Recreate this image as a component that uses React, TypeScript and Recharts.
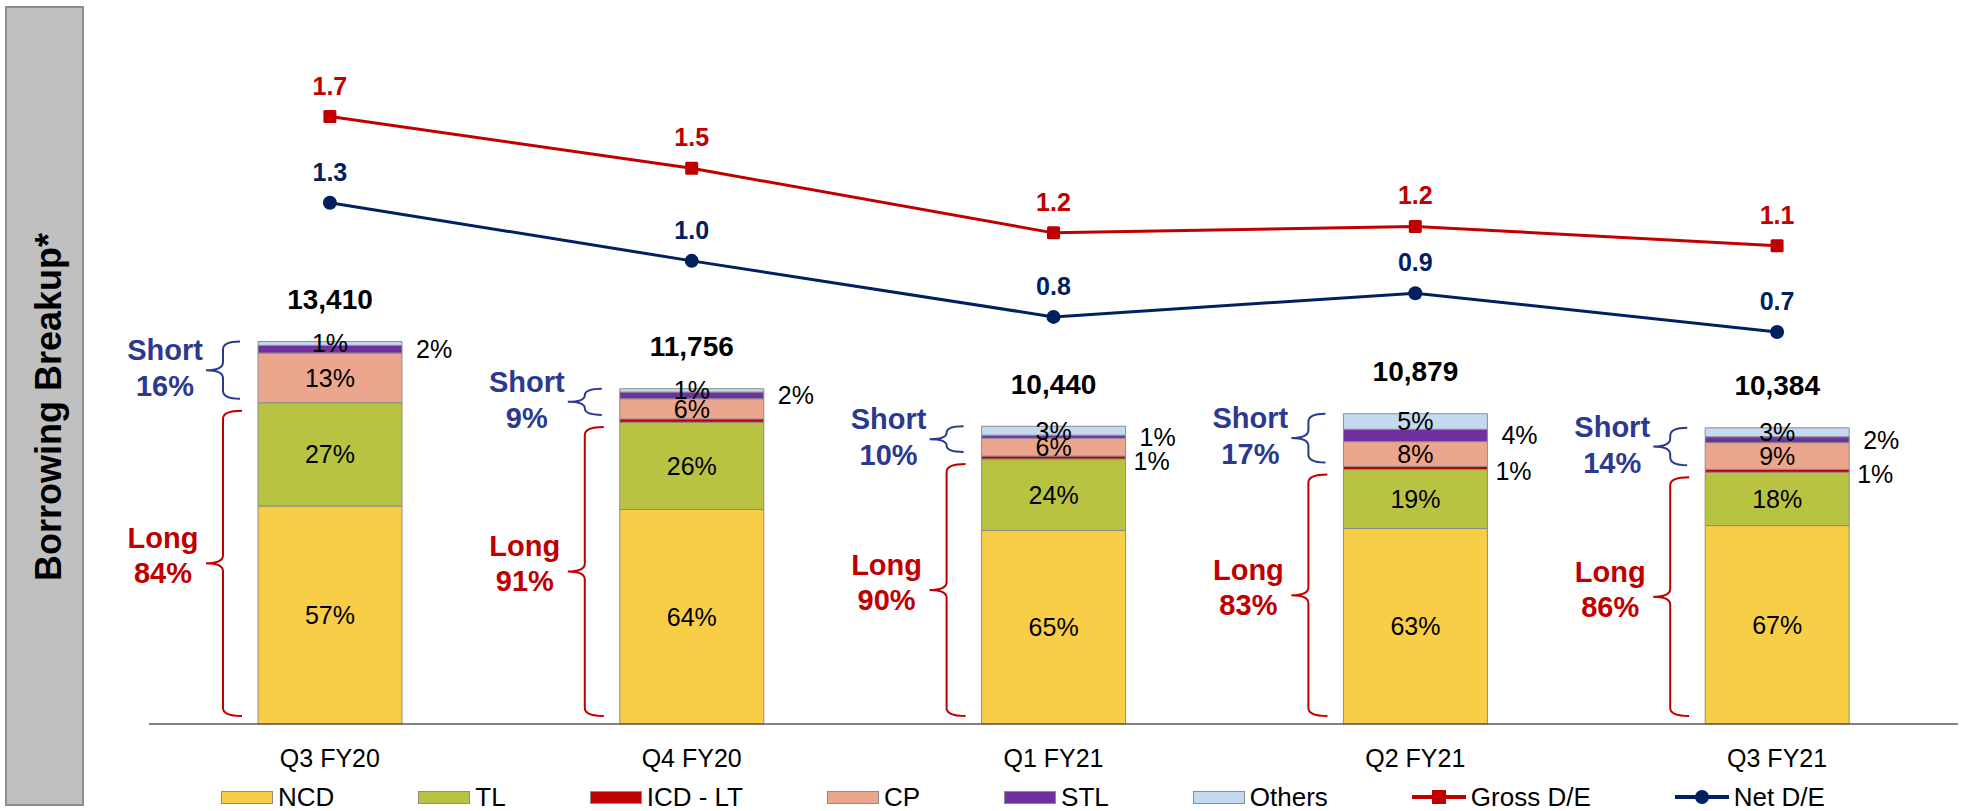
import { Bar, ComposedChart, LabelList, Legend, Line, XAxis, YAxis } from 'recharts'

const categories = ['Q3 FY20', 'Q4 FY20', 'Q1 FY21', 'Q2 FY21', 'Q3 FY21']
const totalBorrowing = [13410, 11756, 10440, 10879, 10384]

// share of total borrowing, %
const ncdShare = [57, 64, 65, 63, 67]
const tlShare = [27, 26, 24, 19, 18]
const icdShare = [0, 1, 1, 1, 1]
const cpShare = [13, 6, 6, 8, 9]
const stlShare = [2, 2, 1, 4, 2]
const othersShare = [1, 1, 3, 5, 3]
const longShare = [84, 91, 90, 83, 86]
const shortShare = [16, 9, 10, 17, 14]

const grossDE = [1.7, 1.46, 1.16, 1.19, 1.1]
const netDE = [1.3, 1.03, 0.77, 0.88, 0.7]

const W = 1965
const H = 811
const X_AXIS_H = 30
const MARGIN = { top: 11, right: 7, bottom: 57, left: 149 }
const PLOT_BOTTOM = H - MARGIN.bottom - X_AXIS_H
const FONT = '"Liberation Sans", Arial, sans-serif'

const RED = '#C00000'
const NAVY = '#002060'
const SHORT_BLUE = '#2B3A8F'

const rows = categories.map((category, i) => ({
  category,
  ncd: (totalBorrowing[i] * ncdShare[i]) / 100,
  tl: (totalBorrowing[i] * tlShare[i]) / 100,
  icd: (totalBorrowing[i] * icdShare[i]) / 100,
  cp: (totalBorrowing[i] * cpShare[i]) / 100,
  stl: (totalBorrowing[i] * stlShare[i]) / 100,
  others: (totalBorrowing[i] * othersShare[i]) / 100,
  gross: grossDE[i],
  net: netDE[i],
}))

const barSeries = [
  { key: 'ncd', name: 'NCD', color: '#F7CE46', shares: ncdShare, side: false },
  { key: 'tl', name: 'TL', color: '#B8C441', shares: tlShare, side: false },
  { key: 'icd', name: 'ICD - LT', color: '#C00000', shares: icdShare, side: true },
  { key: 'cp', name: 'CP', color: '#EDA68E', shares: cpShare, side: false },
  { key: 'stl', name: 'STL', color: '#7030A0', shares: stlShare, side: true },
  { key: 'others', name: 'Others', color: '#C5D9F1', shares: othersShare, side: false },
]

function insideLabel(shares: number[]) {
  return (props: any) => {
    const { x, y, width, height, index } = props
    const s = shares[index]
    if (!s) return null
    return (
      <text x={Number(x) + Number(width) / 2} y={Number(y) + Number(height) / 2} textAnchor="middle"
        dominantBaseline="central" fontSize={25} fontFamily={FONT} fill="#000">
        {s}%
      </text>
    )
  }
}

function sideLabel(shares: number[], dx: number, dy: number) {
  return (props: any) => {
    const { x, y, width, height, index } = props
    const s = shares[index]
    if (!s) return null
    return (
      <text x={Number(x) + Number(width) + dx} y={Number(y) + Number(height) / 2 + dy}
        dominantBaseline="central" fontSize={25} fontFamily={FONT} fill="#000">
        {s}%
      </text>
    )
  }
}

function bracePath(vx: number, y1: number, y2: number, tip: number, point: number) {
  const ym = (y1 + y2) / 2
  const r = Math.min(8, (y2 - y1) / 4)
  return `M${vx + tip},${y1} Q${vx},${y1} ${vx},${y1 + r} L${vx},${ym - r} Q${vx},${ym} ${vx - point},${ym} ` +
    `Q${vx},${ym} ${vx},${ym + r} L${vx},${y2 - r} Q${vx},${y2} ${vx + tip},${y2}`
}

// totals, short/long braces; drawn from the top segment of each stack
function StackAnnotation(props: any) {
  const { x, y, width, index } = props
  const bx = Number(x)
  const top = Number(y)
  const cx = bx + Number(width) / 2
  const longTop = top + ((PLOT_BOTTOM - top) * shortShare[index]) / 100
  const vx = bx - 35
  const s1 = top
  const s2 = longTop - 4
  const sm = (s1 + s2) / 2
  const l1 = longTop + 8
  const l2 = PLOT_BOTTOM - 8
  const lm = (l1 + l2) / 2
  const bold = { fontFamily: FONT, fontWeight: 700, fontSize: 29, textAnchor: 'middle' as const, dominantBaseline: 'central' as const }
  return (
    <g>
      <text x={cx} y={top - 42} {...bold} fontSize={28} fill="#000">
        {totalBorrowing[index].toLocaleString('en-US')}
      </text>
      <path d={bracePath(vx, s1, s2, 17, 17)} fill="none" stroke={SHORT_BLUE} strokeWidth={2} />
      <path d={bracePath(vx, l1, l2, 19, 17)} fill="none" stroke={RED} strokeWidth={2} />
      <text x={bx - 93} y={sm - 20} {...bold} fill={SHORT_BLUE}>Short</text>
      <text x={bx - 93} y={sm + 16} {...bold} fill={SHORT_BLUE}>{shortShare[index]}%</text>
      <text x={bx - 95} y={lm - 25} {...bold} fill={RED}>Long</text>
      <text x={bx - 95} y={lm + 10} {...bold} fill={RED}>{longShare[index]}%</text>
    </g>
  )
}

function lineLabel(color: string) {
  return (props: any) => {
    const { x, y, value } = props
    return (
      <text x={Number(x)} y={Number(y) - 31} textAnchor="middle" dominantBaseline="central"
        fontSize={25} fontWeight={700} fontFamily={FONT} fill={color}>
        {Number(value).toFixed(1)}
      </text>
    )
  }
}

const SquareDot = (props: any) => (
  <rect key={`sq-${props.index}`} x={props.cx - 6.5} y={props.cy - 6.5} width={13} height={13} rx={1.5} fill={RED} />
)
const RoundDot = (props: any) => (
  <circle key={`ci-${props.index}`} cx={props.cx} cy={props.cy} r={7} fill={NAVY} />
)

const CategoryTick = (props: any) => (
  <text x={props.x} y={PLOT_BOTTOM + 34} textAnchor="middle" dominantBaseline="central" fontSize={25} fontFamily={FONT} fill="#000">
    {props.payload.value}
  </text>
)

function LegendRow() {
  const swatch = (color: string) => (
    <span style={{ width: 52, height: 13, background: color, border: '1px solid #8c8c8c', boxSizing: 'border-box', display: 'inline-block' }} />
  )
  const lineIcon = (color: string, square: boolean) => (
    <svg width={54} height={18}>
      <line x1={0} y1={9} x2={54} y2={9} stroke={color} strokeWidth={4} />
      {square ? <rect x={20} y={2} width={14} height={14} fill={color} /> : <circle cx={27} cy={9} r={7} fill={color} />}
    </svg>
  )
  const items = [
    ...barSeries.map((s) => ({ name: s.name, icon: swatch(s.color) })),
    { name: 'Gross D/E', icon: lineIcon(RED, true) },
    { name: 'Net D/E', icon: lineIcon(NAVY, false) },
  ]
  return (
    <div style={{ display: 'flex', alignItems: 'center', gap: 84, fontFamily: FONT, fontSize: 26, lineHeight: '30px', color: '#000', whiteSpace: 'nowrap' }}>
      {items.map((it) => (
        <span key={it.name} style={{ display: 'inline-flex', alignItems: 'center', gap: 5 }}>
          {it.icon}
          {it.name}
        </span>
      ))}
    </div>
  )
}

export default function App() {
  return (
    <div style={{ position: 'relative', width: W, height: H, background: '#fff', overflow: 'hidden' }}>
      <style>{'body{margin:0}'}</style>
      <div style={{ position: 'absolute', left: 5, top: 6, width: 79, height: 800, background: '#C0C0C0', border: '2px solid #8c8c8c', boxSizing: 'border-box' }} />
      <div style={{ position: 'absolute', left: 49, top: 407, transform: 'translate(-50%, -50%) rotate(-90deg)', whiteSpace: 'nowrap', fontFamily: FONT, fontWeight: 700, fontSize: 36, color: '#000' }}>
        Borrowing Breakup*
      </div>
      <div style={{ position: 'absolute', left: 0, top: 0 }}>
        <ComposedChart width={W} height={H} data={rows} margin={MARGIN}>
          <XAxis dataKey="category" interval={0} height={X_AXIS_H} tickLine={false} tickSize={0} tickMargin={0}
            axisLine={{ stroke: '#595959', strokeWidth: 1.5 }} tick={<CategoryTick />} />
          <YAxis yAxisId="amt" hide domain={[0, 25000]} />
          <YAxis yAxisId="de" orientation="right" width={0} domain={[-1.12, 2.19]} tick={false} tickLine={false}
            axisLine={{ stroke: '#8c8c8c', strokeWidth: 2 }} />
          {barSeries.map((s) => (
            <Bar key={s.key} yAxisId="amt" dataKey={s.key} name={s.name} stackId="b" barSize={144} fill={s.color}
              stroke="#8c8c8c" strokeWidth={1} isAnimationActive={false}>
              <LabelList dataKey={s.key} content={s.side ? sideLabel(s.shares, s.key === 'stl' ? 14 : 8, s.key === 'icd' ? 3 : 0) : insideLabel(s.shares)} />
              {s.key === 'others' ? <LabelList dataKey={s.key} content={StackAnnotation} /> : null}
            </Bar>
          ))}
          <Line yAxisId="de" dataKey="gross" name="Gross D/E" stroke={RED} strokeWidth={3} dot={SquareDot} activeDot={false} isAnimationActive={false}>
            <LabelList dataKey="gross" content={lineLabel(RED)} />
          </Line>
          <Line yAxisId="de" dataKey="net" name="Net D/E" stroke={NAVY} strokeWidth={3} dot={RoundDot} activeDot={false} isAnimationActive={false}>
            <LabelList dataKey="net" content={lineLabel(NAVY)} />
          </Line>
          <Legend layout="horizontal" verticalAlign="middle" align="center" content={() => <LegendRow />}
            wrapperStyle={{ left: 221, top: 782, width: 1700, height: 30 }} />
        </ComposedChart>
      </div>
    </div>
  )
}
